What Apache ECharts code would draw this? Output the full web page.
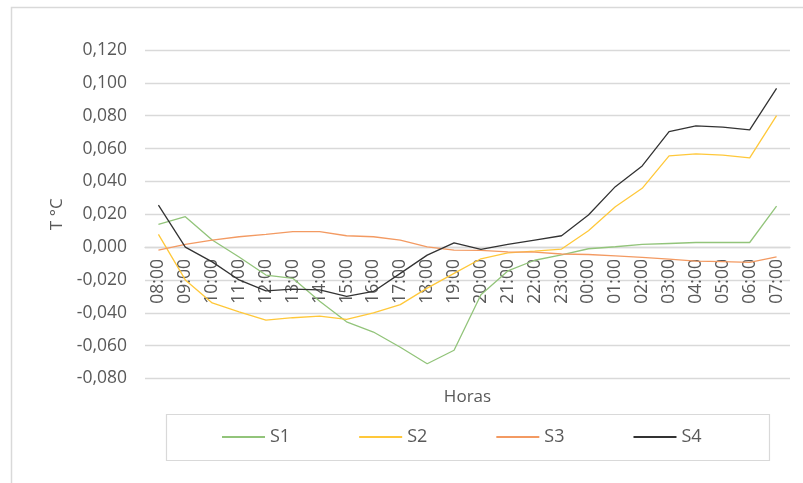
<!DOCTYPE html>
<html>
<head>
<meta charset="utf-8">
<script src="https://cdn.jsdelivr.net/npm/echarts@6/dist/echarts.min.js"></script>
<style>
  html, body { margin: 0; padding: 0; background: #fff; }
  #chart { width: 803px; height: 483px; }
</style>
</head>
<body>
<div id="chart"></div>
<script>
// horas
const horas = ['08:00', '09:00', '10:00', '11:00', '12:00', '13:00', '14:00', '15:00',
  '16:00', '17:00', '18:00', '19:00', '20:00', '21:00', '22:00', '23:00',
  '00:00', '01:00', '02:00', '03:00', '04:00', '05:00', '06:00', '07:00']

const s1 = [0.0138, 0.0185, 0.0043, -0.006, -0.017, -0.019, -0.033, -0.0455,
  -0.0517, -0.061, -0.071, -0.0628, -0.029, -0.0145, -0.008, -0.0047,
  -0.001, 0.0002, 0.0016, 0.0022, 0.0028, 0.0028, 0.0028, 0.025]
const s2 = [0.0077, -0.020, -0.034, -0.0395, -0.0445, -0.043, -0.042, -0.044,
  -0.040, -0.035, -0.025, -0.016, -0.0071, -0.0035, -0.0024, -0.0012,
  0.010, 0.0246, 0.0358, 0.0555, 0.0567, 0.056, 0.0543, 0.080]
const s3 = [-0.0018, 0.0016, 0.0043, 0.0063, 0.0077, 0.0094, 0.0094, 0.0069,
  0.0063, 0.0043, 0.0002, -0.0018, -0.002, -0.0029, -0.003, -0.0042,
  -0.0045, -0.0053, -0.0063, -0.0073, -0.0085, -0.0089, -0.0093, -0.0059]
const s4 = [0.0256, 0.000, -0.009, -0.020, -0.0267, -0.0256, -0.026, -0.030,
  -0.027, -0.016, -0.0049, 0.0026, -0.0014, 0.0016, 0.0043, 0.0069,
  0.0195, 0.0368, 0.0494, 0.0703, 0.0738, 0.073, 0.0714, 0.0966]

const seriesNames = ['S1', 'S2', 'S3', 'S4']
const seriesData = [s1, s2, s3, s4]
const colors = ['#92c47a', '#ffc83a', '#f39a62', '#333333']

const font = 'Open Sans'
const textColor = '#595959'
const gridColor = '#d9d9d9'

const chart = echarts.init(document.getElementById('chart'))

const option = {
  animation: false,
  backgroundColor: '#fff',
  color: colors,
  grid: {
    left: 145, right: 13, top: 50, bottom: 104.5,
    containLabel: false,
    outerBoundsMode: 'none'
  },
  xAxis: {
    type: 'category',
    data: horas,
    boundaryGap: true,
    position: 'bottom',
    // eje en el cero: bajo el 0 de -0,080..0,120
    offset: -131.4,
    name: 'Horas',
    nameLocation: 'middle',
    nameGap: 142,
    nameTextStyle: { fontFamily: font, fontSize: 17, color: textColor },
    axisLine: { onZero: false, lineStyle: { color: gridColor, width: 1.3 } },
    axisTick: { show: false },
    axisLabel: {
      rotate: 90,
      margin: 12,
      interval: 0,
      fontFamily: font,
      fontSize: 17.5,
      color: textColor
    }
  },
  yAxis: {
    type: 'value',
    min: -0.08,
    max: 0.12,
    interval: 0.02,
    name: 'T °C',
    nameLocation: 'middle',
    nameRotate: 90,
    nameGap: 79,
    nameTextStyle: { fontFamily: font, fontSize: 17, color: textColor },
    axisLine: { show: false },
    axisTick: { show: false },
    axisLabel: {
      margin: 18,
      fontFamily: font,
      fontSize: 17.5,
      color: textColor,
      formatter: (v) => v.toFixed(3).replace('.', ',')
    },
    splitLine: { lineStyle: { color: gridColor, width: 1.3 } }
  },
  legend: {
    data: seriesNames,
    left: 222,
    top: 428,
    padding: 0,
    icon: 'rect',
    itemWidth: 43,
    itemHeight: 2,
    itemGap: 69,
    textStyle: { fontFamily: font, fontSize: 18, color: textColor }
  },
  graphic: [
    {
      type: 'rect',
      shape: { x: 11.5, y: 7.5, width: 900, height: 600 },
      style: { fill: 'none', stroke: gridColor, lineWidth: 1.5 },
      silent: true
    },
    {
      type: 'rect',
      shape: { x: 166.5, y: 414.5, width: 603, height: 46 },
      style: { fill: 'none', stroke: gridColor, lineWidth: 1.2 },
      silent: true
    }
  ],
  series: seriesNames.map((name, i) => ({
    name: name,
    type: 'line',
    z: 5,
    data: seriesData[i],
    showSymbol: false,
    symbol: 'none',
    lineStyle: { width: 1.3, color: colors[i] },
    itemStyle: { color: colors[i] }
  }))
}

chart.setOption(option)
</script>
</body>
</html>
